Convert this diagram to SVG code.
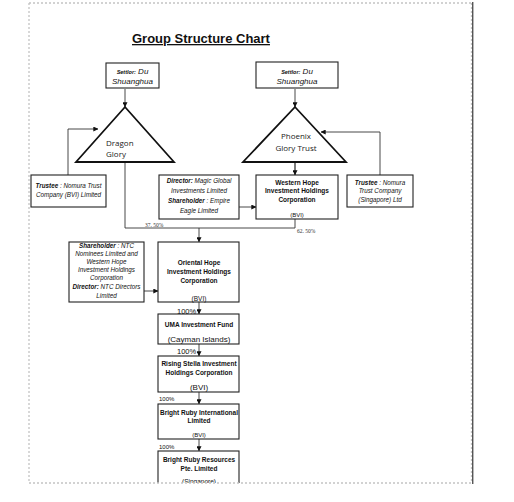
<svg xmlns="http://www.w3.org/2000/svg" width="514" height="502" viewBox="0 0 514 502">
<defs>
<marker id="ah" viewBox="0 0 8 8" refX="7.5" refY="4" markerWidth="5" markerHeight="5" orient="auto" markerUnits="userSpaceOnUse">
<path d="M0,0 L8,4 L0,8 z" fill="#111"/>
</marker>
<style>
.box{fill:#fff;stroke:#222;stroke-width:1.1}
.tri{fill:#fff;stroke:#111;stroke-width:1.8;stroke-linejoin:miter}
.ln{fill:none;stroke:#333;stroke-width:0.9}
.dot{fill:none;stroke:#c4c4c4;stroke-width:1.3;stroke-dasharray:2 2}
.t{font-family:"Liberation Sans",Arial,sans-serif;fill:#111;text-anchor:middle}
.b{font-weight:bold;font-size:6.5px}
.i{font-style:italic;font-size:6.3px}
.tri-t{font-family:"Open Sans","Noto Sans",sans-serif;font-size:8px;fill:#222}
.pct{font-family:"Liberation Sans",Arial,sans-serif;fill:#111}
.small{font-family:"Liberation Serif",serif;font-size:5.5px;fill:#333}
</style>
</defs>
<rect x="0" y="0" width="514" height="502" fill="#fff"/>

<text x="132" y="43" font-family="Liberation Sans, Arial, sans-serif" font-weight="bold" font-size="13" fill="#111" text-decoration="underline">Group Structure Chart</text>

<g id="connectors">
<line class="ln" x1="125" y1="89" x2="125" y2="107" marker-end="url(#ah)"/>
<line class="ln" x1="295" y1="89" x2="295" y2="107" marker-end="url(#ah)"/>
<polyline class="ln" points="68,175 68,129 98,129" marker-end="url(#ah)"/>
<polyline class="ln" points="380,175 380,132 321,132" marker-end="url(#ah)"/>
<line class="ln" x1="295" y1="162" x2="295" y2="175" marker-end="url(#ah)" style="stroke-width:1.3"/>
<line class="ln" x1="239" y1="207" x2="256" y2="207" marker-end="url(#ah)"/>
<polyline class="ln" points="125,162 125,228 295,228 295,219"/>
<line class="ln" x1="199" y1="228" x2="199" y2="242" marker-end="url(#ah)"/>
<line class="ln" x1="144" y1="291" x2="158" y2="291" marker-end="url(#ah)"/>
<line class="ln" x1="199" y1="302" x2="199" y2="314" marker-end="url(#ah)"/>
<line class="ln" x1="199" y1="344" x2="199" y2="356" marker-end="url(#ah)"/>
<line class="ln" x1="199" y1="392" x2="199" y2="404" marker-end="url(#ah)"/>
<line class="ln" x1="199" y1="439" x2="199" y2="451" marker-end="url(#ah)"/>
<text class="small" x="145" y="227">37. 50%</text>
<text class="small" x="297" y="233">62. 50%</text>
<text class="pct" x="177" y="314" font-size="7.5">100%</text>
<text class="pct" x="177" y="354" font-size="7.5">100%</text>
<text class="pct" x="159" y="401" font-size="6">100%</text>
<text class="pct" x="159" y="449" font-size="6">100%</text>
</g>

<g id="settlor-left">
<rect class="box" x="106" y="63" width="53" height="25"/>
<text class="t" x="132.5" y="73.5"><tspan font-weight="bold" font-style="italic" font-size="5.5">Settlor:</tspan><tspan font-style="italic" font-size="8"> Du</tspan></text>
<text class="t" x="132.5" y="84" font-style="italic" font-size="8">Shuanghua</text>
</g>

<g id="settlor-right">
<rect class="box" x="256" y="62" width="82" height="26"/>
<text class="t" x="297" y="73.5"><tspan font-weight="bold" font-style="italic" font-size="5.5">Settlor:</tspan><tspan font-style="italic" font-size="8"> Du</tspan></text>
<text class="t" x="297" y="84" font-style="italic" font-size="8">Shuanghua</text>
</g>

<g id="dragon-glory">
<polygon class="tri" points="125,107 174,162 76,162"/>
<text class="tri-t" x="106" y="146">Dragon</text>
<text class="tri-t" x="106" y="157">Glory</text>
</g>

<g id="phoenix-glory-trust">
<polygon class="tri" points="295,107 346,162 243,162"/>
<text class="tri-t" x="296" y="139" text-anchor="middle">Phoenix</text>
<text class="tri-t" x="296" y="150.5" text-anchor="middle">Glory Trust</text>
</g>

<g id="trustee-bvi">
<rect class="box" x="31" y="175" width="75" height="32"/>
<text class="t i" x="68.5" y="188"><tspan font-weight="bold">Trustee</tspan> : Nomura Trust</text>
<text class="t i" x="68.5" y="197">Company (BVI) Limited</text>
</g>

<g id="director-box">
<rect class="box" x="159" y="175" width="80" height="44"/>
<text class="t i" x="199" y="182.5"><tspan font-weight="bold">Director:</tspan>  Magic Global</text>
<text class="t i" x="199" y="192.5">Investments Limited</text>
<text class="t i" x="199" y="202.5"><tspan font-weight="bold">Shareholder</tspan> : Empire</text>
<text class="t i" x="199" y="212.5">Eagle Limited</text>
</g>

<g id="western-hope">
<rect class="box" x="256" y="175" width="82" height="44"/>
<text class="t b" x="297" y="184.5">Western Hope</text>
<text class="t b" x="297" y="193">Investment Holdings</text>
<text class="t b" x="297" y="201.5">Corporation</text>
<text class="t" x="297" y="217" font-size="6">(BVI)</text>
</g>

<g id="trustee-singapore">
<rect class="box" x="347" y="175" width="66" height="32"/>
<text class="t i" x="380" y="184.5"><tspan font-weight="bold">Trustee</tspan> : Nomura</text>
<text class="t i" x="380" y="193">Trust Company</text>
<text class="t i" x="380" y="201.5">(Singapore) Ltd</text>
</g>

<g id="shareholder-ntc">
<rect class="box" x="69" y="242" width="75" height="60"/>
<text class="t i" x="106.5" y="247.5"><tspan font-weight="bold">Shareholder</tspan> : NTC</text>
<text class="t i" x="106.5" y="255.5">Nominees Limited and</text>
<text class="t i" x="106.5" y="263.5">Western Hope</text>
<text class="t i" x="106.5" y="271.5">Investment Holdings</text>
<text class="t i" x="106.5" y="279.5">Corporation</text>
<text class="t i" x="106.5" y="289"><tspan font-weight="bold">Director:</tspan>  NTC Directors</text>
<text class="t i" x="106.5" y="297.5">Limited</text>
</g>

<g id="oriental-hope">
<rect class="box" x="158" y="242" width="81" height="60"/>
<text class="t b" x="199" y="265">Oriental Hope</text>
<text class="t b" x="199" y="273.5">Investment Holdings</text>
<text class="t b" x="199" y="282.5">Corporation</text>
<text class="t" x="199" y="301" font-size="6.5">(BVI)</text>
</g>

<g id="uma-fund">
<rect class="box" x="158" y="314" width="81" height="30"/>
<text class="t b" x="199" y="326.5">UMA Investment Fund</text>
<text class="t" x="199" y="342" font-size="8">(Cayman Islands)</text>
</g>

<g id="rising-stella">
<rect class="box" x="158" y="356" width="81" height="36"/>
<text class="t b" x="199" y="365.5">Rising Stella Investment</text>
<text class="t b" x="199" y="374.5">Holdings Corporation</text>
<text class="t" x="199" y="390" font-size="8">(BVI)</text>
</g>

<g id="bright-ruby-international">
<rect class="box" x="158" y="404" width="81" height="35"/>
<text class="t b" x="199" y="414.5">Bright Ruby International</text>
<text class="t b" x="199" y="423">Limited</text>
<text class="t" x="199" y="436.5" font-size="6">(BVI)</text>
</g>

<g id="bright-ruby-resources">
<rect class="box" x="158" y="451" width="81" height="45"/>
<text class="t b" x="199" y="461.5">Bright Ruby Resources</text>
<text class="t b" x="199" y="470.5">Pte. Limited</text>
<text class="t" x="199" y="484" font-size="6.5">(Singapore)</text>
</g>

<rect x="0" y="483" width="514" height="19" fill="#fff"/>
<line class="dot" x1="29" y1="3" x2="471.5" y2="3"/>
<line class="dot" x1="29" y1="3" x2="29" y2="483"/>
<line class="dot" x1="29" y1="483" x2="472" y2="483"/>
<line class="dot" x1="471.5" y1="3" x2="471.5" y2="483"/>
<line x1="472.8" y1="2" x2="472.8" y2="484" stroke="#111" stroke-width="1"/>
</svg>
